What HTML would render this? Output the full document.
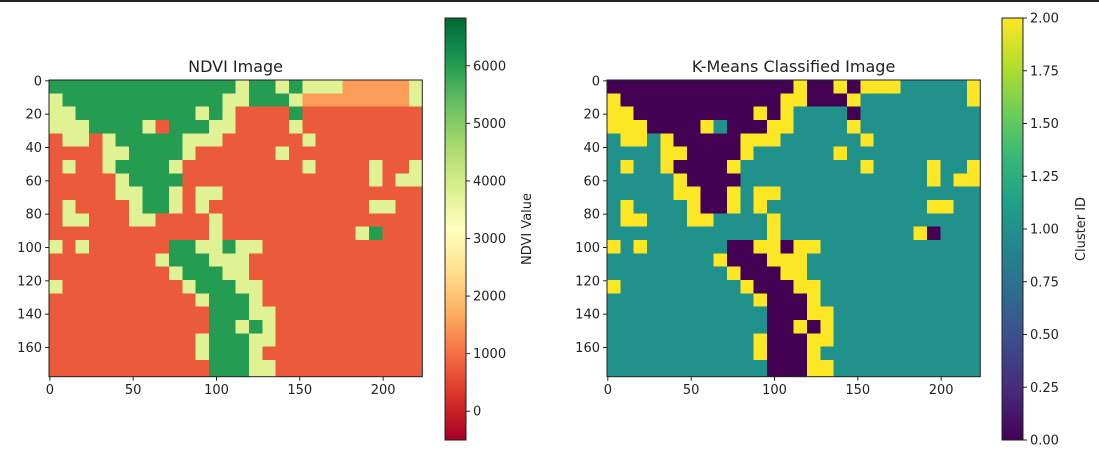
<!DOCTYPE html>
<html><head><meta charset="utf-8"><style>
html,body{margin:0;padding:0;background:#fff;}
svg{display:block;font-family:"DejaVu Sans","Liberation Sans",sans-serif;}
</style></head><body>
<svg id="fig" width="1099" height="456" viewBox="0 0 1099 456" xmlns="http://www.w3.org/2000/svg">
<rect x="0" y="0" width="1099" height="2" fill="#222"/>
<defs>
<linearGradient id="rdylgn" x1="0" y1="1" x2="0" y2="0">
<stop offset="0" stop-color="#a50026"/><stop offset="0.1" stop-color="#d73027"/><stop offset="0.2" stop-color="#f46d43"/><stop offset="0.3" stop-color="#fdae61"/><stop offset="0.4" stop-color="#fee08b"/><stop offset="0.5" stop-color="#ffffbf"/><stop offset="0.6" stop-color="#d9ef8b"/><stop offset="0.7" stop-color="#a6d96a"/><stop offset="0.8" stop-color="#66bd63"/><stop offset="0.9" stop-color="#1a9850"/><stop offset="1" stop-color="#006837"/>
</linearGradient>
<linearGradient id="viridis" x1="0" y1="1" x2="0" y2="0">
<stop offset="0" stop-color="#440154"/><stop offset="0.111" stop-color="#482878"/><stop offset="0.222" stop-color="#3e4989"/><stop offset="0.333" stop-color="#31688e"/><stop offset="0.444" stop-color="#26828e"/><stop offset="0.555" stop-color="#1f9e89"/><stop offset="0.666" stop-color="#35b779"/><stop offset="0.777" stop-color="#6ece58"/><stop offset="0.888" stop-color="#b5de2b"/><stop offset="1" stop-color="#fde725"/>
</linearGradient>
<clipPath id="clipL"><rect x="49" y="80" width="373.3" height="296.7"/></clipPath>
<clipPath id="clipR"><rect x="607" y="80" width="373.3" height="296.7"/></clipPath>
</defs>
</svg>
<script>
// class grid: 8x8 pixel blocks, P=0 T=1 Y=2
const classRows = [
"PPPPPPPPPPPPPPYPPYPYYYTTTTTY",
"YPPPPPPPPPPPPYYPPPYTTTTTTTTY",
"YYPPPPPPPPPYPYTTTTPTTTTTTTTT",
"YYYPPPPYTPPPYYTTTTYTTTTTTTTT",
"TYYTYPPPPPYYYTTTTTTYTTTTTTTT",
"TTTTYYPPPPYTTTTTTYTTTTTTTTTT",
"TYTTYPPPPYTTTTTTTTTYTTTTYTTY",
"TTTTTYPPPPTTTTTTTTTTTTTTYTYY",
"TTTTTYYPPYTYYTTTTTTTTTTTTTTT",
"TYTTTTYPPYTYTTTTTTTTTTTTYYTT",
"TYYTTTYYTTTTYTTTTTTTTTTTTTTT",
"TTTTTTTTTTTTYTTTTTTTTTTYPTTT",
"YTYTTTTTTPPYYPYYTTTTTTTTTTTT",
"TTTTTTTTYPPPYYYTTTTTTTTTTTTT",
"TTTTTTTTTYPPPYYTTTTTTTTTTTTT",
"YTTTTTTTTTYPPPYYTTTTTTTTTTTT",
"TTTTTTTTTTTYPPPYTTTTTTTTTTTT",
"TTTTTTTTTTTTPPPYYTTTTTTTTTTT",
"TTTTTTTTTTTTPPYPYTTTTTTTTTTT",
"TTTTTTTTTTTYPPPYYTTTTTTTTTTT",
"TTTTTTTTTTTYPPPYTTTTTTTTTTTT",
"TTTTTTTTTTTTPPPYYTTTTTTTTTTT",
"TTTTTTTTTTTTPPPYYTTTTTTTTTTT"
];
// NDVI grid: digit d => NDVI = d*750
const ndviRows = [
"8888888888888858858555222225",
"5888888888888558885222222225",
"5588888888858511118111111111",
"5558888518885511115111111111",
"1551588888555111111511111111",
"1111558888511111151111111111",
"1511588885111111111511115115",
"1111158888111111111111115155",
"1111155885155111111111111111",
"1511115885151111111111115511",
"1551115511115111111111111111",
"1111111111115111111111158111",
"5151111118855855111111111111",
"1111111158885551111111111111",
"1111111115888551111111111111",
"5111111111588855111111111111",
"1111111111158885111111111111",
"1111111111118885511111111111",
"1111111111118858511111111111",
"1111111111158885511111111111",
"1111111111158885111111111111",
"1111111111118885511111111111",
"1111111111118885511111111111"
];
const xTickLabels = [0,50,100,150,200];
const yTickLabels = [0,20,40,60,80,100,120,140,160];
const ndviTicks = [0,1000,2000,3000,4000,5000,6000];
const clusterTicks = [0.00,0.25,0.50,0.75,1.00,1.25,1.50,1.75,2.00];
const ndviMin = -500, ndviMax = 6830;
const classColors = {P:"#440154",T:"#21918c",Y:"#fde725"};

const NS="http://www.w3.org/2000/svg";
const svg=document.getElementById('fig');
function mk(tag,attrs,parent){const e=document.createElementNS(NS,tag);for(const k in attrs)e.setAttribute(k,attrs[k]);(parent||svg).appendChild(e);return e;}
const S=373.3/224;
function rdylgn(t){
  const st=["#a50026","#d73027","#f46d43","#fdae61","#fee08b","#ffffbf","#d9ef8b","#a6d96a","#66bd63","#1a9850","#006837"];
  t=Math.max(0,Math.min(1,t))*10;const i=Math.min(9,Math.floor(t)),f=t-i;
  const a=st[i],b=st[i+1];const c=j=>Math.round(parseInt(a.substr(j,2),16)*(1-f)+parseInt(b.substr(j,2),16)*f);
  return "rgb("+c(1)+","+c(3)+","+c(5)+")";
}
function axes(left,top,title,name){
  const g=mk('g',{});
  
  
  const t=mk('text',{x:left+186.6,y:72,'text-anchor':'middle','font-size':16,fill:'#222'},g);
  t.textContent=title;
  
  
  xTickLabels.forEach(v=>{const x=left+(v+0.5)*S;
    mk('line',{x1:x,x2:x,y1:top+296.7,y2:top+300.7,stroke:'#222'},g);
    const l=mk('text',{x:x,y:top+314,'text-anchor':'middle','font-size':13,fill:'#222'},g);l.textContent=v;
    
    });
  yTickLabels.forEach(v=>{const y=top+(v+0.5)*S;
    mk('line',{x1:left-4,x2:left,y1:y,y2:y,stroke:'#222'},g);
    const l=mk('text',{x:left-7,y:y+4.5,'text-anchor':'end','font-size':13,fill:'#222'},g);l.textContent=v;
    
    });
  return g;
}
// left image
const gl=mk('g',{'clip-path':'url(#clipL)','shape-rendering':'crispEdges'});


ndviRows.forEach((row,r)=>{[...row].forEach((ch,c)=>{
  const v=parseInt(ch)*750;
  const cell=mk('rect',{x:49+c*8*S,y:80+r*8*S,width:8*S+0.6,height:8*S+0.6,fill:rdylgn((v-ndviMin)/(ndviMax-ndviMin))},gl);
  
  
});});
mk('rect',{x:49,y:80,width:373.3,height:296.7,fill:'none',stroke:'#222'});
axes(49,80,'NDVI Image','ndvi-axes');
// right image
const gr=mk('g',{'clip-path':'url(#clipR)','shape-rendering':'crispEdges'});


classRows.forEach((row,r)=>{[...row].forEach((ch,c)=>{
  const cell=mk('rect',{x:607+c*8*S,y:80+r*8*S,width:8*S+0.6,height:8*S+0.6,fill:classColors[ch]},gr);
  
  
});});
mk('rect',{x:607,y:80,width:373.3,height:296.7,fill:'none',stroke:'#222'});
axes(607,80,'K-Means Classified Image','kmeans-axes');
// colorbars
function colorbar(x,grad,ticks,vmin,vmax,fmt,name){
  const g=mk('g',{});
  
  
  mk('rect',{x:x,y:18,width:21,height:422,fill:'url(#'+grad+')',stroke:'#222'},g);
  ticks.forEach(v=>{const y=440-(v-vmin)/(vmax-vmin)*422;
    mk('line',{x1:x+21,x2:x+25,y1:y,y2:y,stroke:'#222'},g);
    const l=mk('text',{x:x+28,y:y+4.5,'font-size':13,fill:'#222'},g);l.textContent=fmt(v);
    
    });
  return g;
}
colorbar(445,'rdylgn',ndviTicks,ndviMin,ndviMax,v=>String(v),'ndvi-colorbar');
colorbar(1002,'viridis',clusterTicks,0,2,v=>v.toFixed(2),'cluster-colorbar');
const l1=mk('text',{x:0,y:0,'font-size':13,fill:'#222','text-anchor':'middle',transform:'translate(531,229) rotate(-90)'});
l1.textContent='NDVI Value';


const l2=mk('text',{x:0,y:0,'font-size':13,fill:'#222','text-anchor':'middle',transform:'translate(1085,229) rotate(-90)'});
l2.textContent='Cluster ID';


</script>
</body></html>
